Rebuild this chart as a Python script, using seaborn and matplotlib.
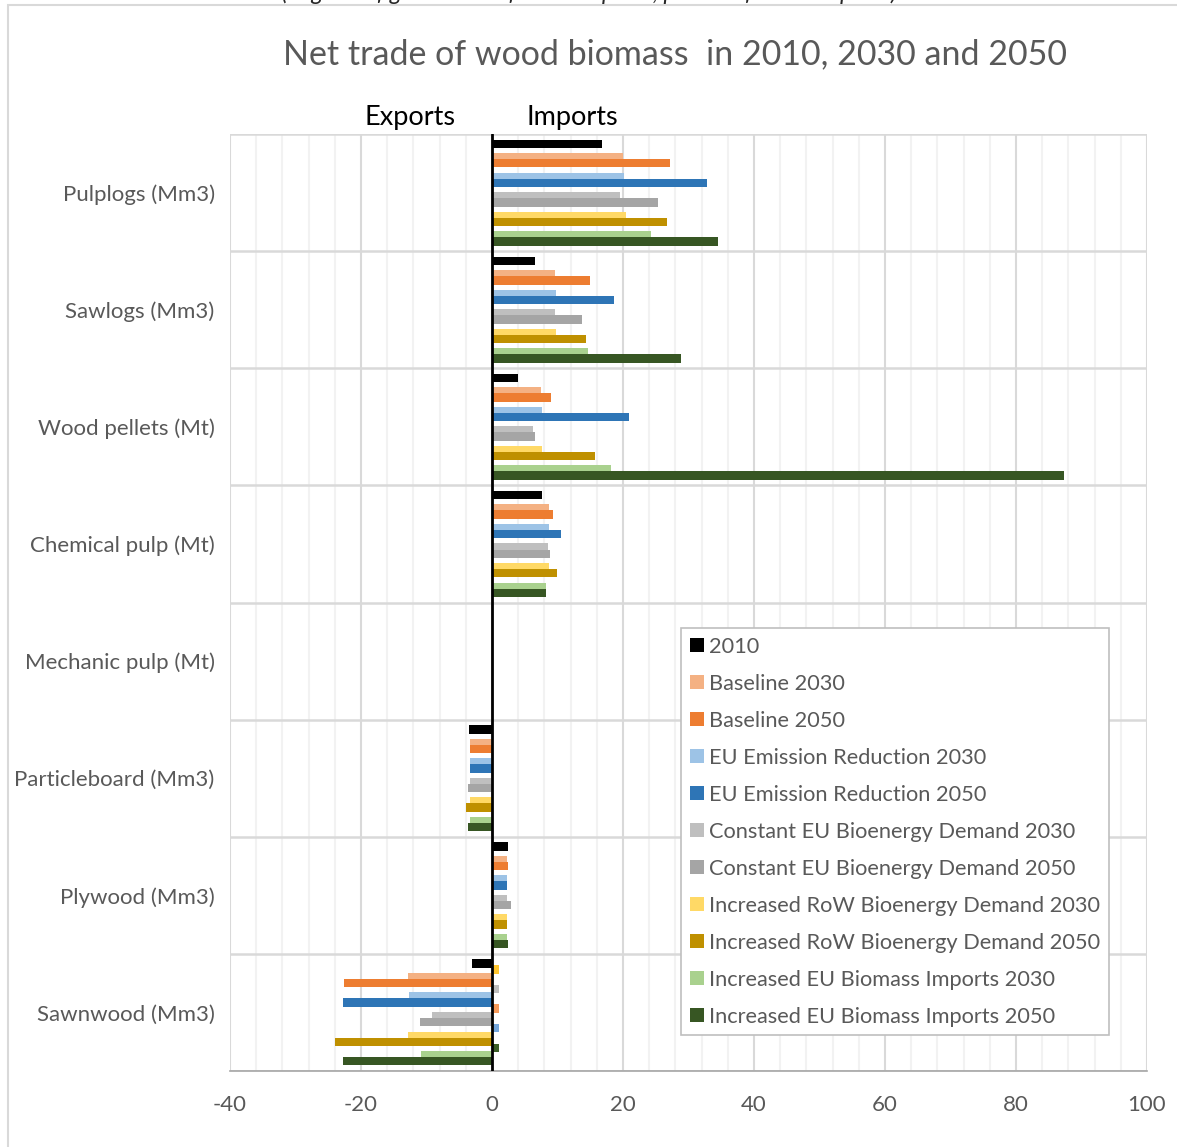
import numpy as np
import pandas as pd
import seaborn as sns
import matplotlib
matplotlib.use("Agg")
import matplotlib.pyplot as plt
from matplotlib.patches import Patch, Rectangle
from matplotlib.ticker import MultipleLocator

# products (rows of the chart)
products = ["Pulplogs (Mm3)", "Sawlogs (Mm3)", "Wood pellets (Mt)", "Chemical pulp (Mt)",
            "Mechanic pulp (Mt)", "Particleboard (Mm3)", "Plywood (Mm3)", "Sawnwood (Mm3)"]

# net trade values (negative = exports, positive = imports)
v_2010 = [16.8, 6.6, 4.0, 7.6, 0, -3.5, 2.5, -3.0]
baseline_2030 = [20.0, 9.6, 7.5, 8.7, 0, -3.4, 2.3, -12.9]
baseline_2050 = [27.2, 14.9, 9.0, 9.3, 0, -3.4, 2.5, -22.6]
eu_emission_2030 = [20.2, 9.7, 7.6, 8.7, 0, -3.4, 2.3, -12.7]
eu_emission_2050 = [32.8, 18.7, 20.9, 10.6, 0, -3.4, 2.3, -22.7]
const_bio_2030 = [19.6, 9.6, 6.3, 8.5, 0, -3.4, 2.3, -9.1]
const_bio_2050 = [25.4, 13.8, 6.5, 8.8, 0, -3.7, 2.85, -11.0]
row_bio_2030 = [20.4, 9.8, 7.6, 8.7, 0, -3.4, 2.3, -12.8]
row_bio_2050 = [26.7, 14.3, 15.7, 9.9, 0, -3.9, 2.3, -23.9]
eu_imports_2030 = [24.2, 14.7, 18.2, 8.2, 0, -3.4, 2.3, -10.8]
eu_imports_2050 = [34.5, 28.9, 87.3, 8.3, 0, -3.6, 2.4, -22.7]

# stray small bars that show up in the sawnwood group only
sawnwood_extra = [1.1, 1.1, 1.1, 1.1, 1.1]
extra_colors = ["#FFC52E", "#BDBDBD", "#F59A5A", "#74A6DC", "#3B5E27"]

names_2050 = ["2010", "Baseline 2050", "EU Emission Reduction 2050", "Constant EU Bioenergy Demand 2050",
              "Increased RoW Bioenergy Demand 2050", "Increased EU Biomass Imports 2050"]
names_2030 = ["Baseline 2030", "EU Emission Reduction 2030", "Constant EU Bioenergy Demand 2030",
              "Increased RoW Bioenergy Demand 2030", "Increased EU Biomass Imports 2030"]
vals_2050 = [v_2010, baseline_2050, eu_emission_2050, const_bio_2050, row_bio_2050, eu_imports_2050]
vals_2030 = [baseline_2030, eu_emission_2030, const_bio_2030, row_bio_2030, eu_imports_2030]

colors = {
    "2010": "#000000",
    "Baseline 2030": "#F4B183", "Baseline 2050": "#ED7D31",
    "EU Emission Reduction 2030": "#9DC3E6", "EU Emission Reduction 2050": "#2E75B6",
    "Constant EU Bioenergy Demand 2030": "#BFBFBF", "Constant EU Bioenergy Demand 2050": "#A5A5A5",
    "Increased RoW Bioenergy Demand 2030": "#FFD966", "Increased RoW Bioenergy Demand 2050": "#BF9000",
    "Increased EU Biomass Imports 2030": "#A9D18E", "Increased EU Biomass Imports 2050": "#375623",
}
legend_order = ["2010", "Baseline 2030", "Baseline 2050", "EU Emission Reduction 2030",
                "EU Emission Reduction 2050", "Constant EU Bioenergy Demand 2030",
                "Constant EU Bioenergy Demand 2050", "Increased RoW Bioenergy Demand 2030",
                "Increased RoW Bioenergy Demand 2050", "Increased EU Biomass Imports 2030",
                "Increased EU Biomass Imports 2050"]

def long_df(names, vals):
    rows = []
    for n, vs in zip(names, vals):
        for p, v in zip(products, vs):
            rows.append({"product": p, "series": n, "value": v})
    return pd.DataFrame(rows)

df_2050 = long_df(names_2050, vals_2050)
df_2030 = long_df(names_2030, vals_2030)
extra_names = [f"extra{i}" for i in range(len(sawnwood_extra))]
df_extra = pd.DataFrame({"product": products[-1], "series": extra_names, "value": sawnwood_extra})

sns.set_style("white")
plt.rcParams["font.family"] = ["Lato", "DejaVu Sans"]
plt.rcParams["axes.unicode_minus"] = False
grey_text = "#595959"

fig = plt.figure(figsize=(11.77, 11.47), dpi=100)
ax = fig.add_axes([230 / 1177, 76 / 1147, 917 / 1177, 937 / 1147])

bar_kw = dict(x="value", y="product", order=products, orient="h", width=1.0, gap=0.57,
              errorbar=None, legend=False, ax=ax, linewidth=0, saturation=1)
shift = 6 / 117

# 2030 bars sit slightly above the matching 2050 bars
n0 = len(ax.patches)
pal_2030 = dict(colors)
pal_2030["pad"] = "white"
sns.barplot(data=df_2030, hue="series", hue_order=["pad"] + names_2030, palette=pal_2030, **bar_kw)
for p in ax.patches[n0:]:
    p.set_y(p.get_y() - shift)

sns.barplot(data=df_2050, hue="series", hue_order=names_2050, palette=colors, **bar_kw)

n0 = len(ax.patches)
pal_extra = dict(zip(extra_names, extra_colors))
pal_extra["pad"] = "white"
sns.barplot(data=df_extra, hue="series", hue_order=extra_names + ["pad"], palette=pal_extra, **bar_kw)
for p in ax.patches[n0:]:
    p.set_y(p.get_y() + shift)

ax.axvline(0, color="black", lw=2.0, zorder=5)

ax.set_xlim(-40, 100)
ax.set_ylim(len(products) - 0.5, -0.5)
ax.xaxis.set_major_locator(MultipleLocator(20))
ax.xaxis.set_minor_locator(MultipleLocator(4))
ax.set_yticks(np.arange(-0.5, len(products)), minor=True)
ax.set_axisbelow(True)
ax.grid(axis="x", which="minor", color="#F2F2F2", lw=1.5)
ax.grid(axis="x", which="major", color="#D9D9D9", lw=1.5)
ax.grid(axis="y", which="minor", color="#D9D9D9", lw=1.8)
ax.grid(axis="y", which="major", visible=False)
for s in ["left", "right", "top"]:
    ax.spines[s].set_visible(False)
ax.spines["bottom"].set_color("#A6A6A6")
ax.spines["bottom"].set_linewidth(1.2)
ax.tick_params(axis="both", which="both", length=0, labelsize=16, labelcolor=grey_text)
ax.tick_params(axis="x", pad=17)
ax.tick_params(axis="y", pad=11)
ax.set_xlabel("")
ax.set_ylabel("")

handles = [Patch(facecolor=colors[n], edgecolor="none") for n in legend_order]
leg = ax.legend(handles, legend_order, loc="upper left", bbox_to_anchor=(0.492, 0.473),
                borderaxespad=0, fontsize=15.7, frameon=True, fancybox=False, framealpha=1,
                edgecolor="#BFBFBF", labelspacing=0.78, handlelength=0.64, handleheight=0.64,
                handletextpad=0.25, borderpad=0.4, labelcolor=grey_text)
leg.get_frame().set_linewidth(1.2)
leg.set_zorder(10)

fig.text(675 / 1177, 1 - 54 / 1147, "Net trade of wood biomass  in 2010, 2030 and 2050",
         ha="center", va="center", fontsize=24.5, color=grey_text)
fig.text(410 / 1177, 1 - 117 / 1147, "Exports", ha="center", va="center", fontsize=19.5, color="black")
fig.text(572 / 1177, 1 - 117 / 1147, "Imports", ha="center", va="center", fontsize=19.5, color="black")

# caption of the page cut off above the chart frame
fig.text(897 / 1177, 1.0, "wood (negative figures stand for net exports, positive for net imports)",
         ha="right", va="baseline", fontsize=17, style="italic", color="#262626")
fig.patches.append(Rectangle((8 / 1177, -0.1), 1.2, 1.1 - 5.5 / 1147, transform=fig.transFigure,
                             fill=False, edgecolor="#D9D9D9", lw=1.5))

fig.savefig("out.png", dpi=100)
